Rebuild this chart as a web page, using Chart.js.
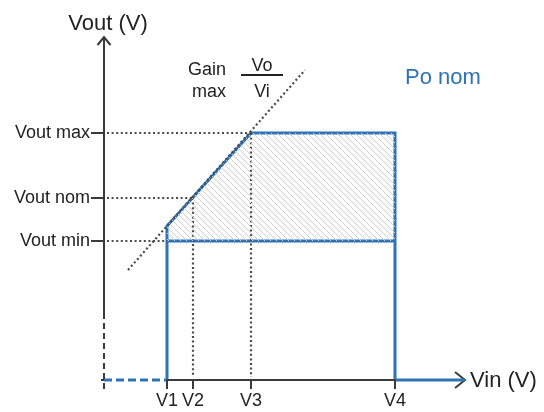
<!DOCTYPE html>
<html>
<head>
<meta charset="utf-8">
<script src="https://cdn.jsdelivr.net/npm/chart.js@4.4.0/dist/chart.umd.min.js"></script>
<style>
  body { margin: 0; background: #fff; }
  #wrap { width: 544px; height: 412px; position: relative; }
</style>
</head>
<body>
<div id="wrap"><canvas id="plage"></canvas></div>
<script>
const vinLabels = ['V1', 'V2', 'V3', 'V4'];
const vinValues = [6.3, 8.9, 14.7, 29.1];
const voutLabels = ['Vout min', 'Vout nom', 'Vout max'];
const voutValues = [13.9, 18.2, 24.7];
const voutAtV1 = 15.4;                 // coin gauche de la zone
const gainLineX = [2.4, 20.1];         // droite de gain max (pointillé)
const gainLineY = [11.0, 31.0];
const axisEnd = { x: 36.1, y: 34.3 };  // pointes des flèches

const BLUE = '#2f72b5';
const DARK = '#3a3a3a';
const DOT = '#4a4a4a';
const FONT = '"Liberation Sans", Arial, sans-serif';

const [V1, V2, V3, V4] = vinValues;
const [vMin, vNom, vMax] = voutValues;
const gap = { x: null, y: null };

// Motif hachuré de la zone
function hatch() {
    const c = document.createElement('canvas');
    c.width = 6; c.height = 6;
    const g = c.getContext('2d');
    g.strokeStyle = '#cfcfcf';
    g.lineWidth = 1;
    g.beginPath();
    g.moveTo(-1, -1); g.lineTo(7, 7);
    g.moveTo(-1, 5); g.lineTo(1, 7);
    g.moveTo(5, -1); g.lineTo(7, 1);
    g.stroke();
    return g.createPattern(c, 'repeat');
}

function seg(points, color, width, dash) {
    return {
        data: points,
        showLine: true,
        borderColor: color,
        borderWidth: width,
        borderDash: dash || [],
        pointRadius: 0,
        fill: false,
        spanGaps: false,
        clip: false,
        borderCapStyle: 'butt',
        borderJoinStyle: 'miter'
    };
}

const zone = [
    { x: V1, y: voutAtV1 }, { x: V3, y: vMax }, { x: V4, y: vMax },
    { x: V4, y: vMin }, { x: V1, y: vMin }, { x: V1, y: voutAtV1 }
];

const guides = [
    { x: 0.3, y: vMax }, { x: V3, y: vMax }, gap,
    { x: 0.3, y: vNom }, { x: V2, y: vNom }, gap,
    { x: 0.3, y: vMin }, { x: V1, y: vMin }, gap,
    { x: V2, y: vNom }, { x: V2, y: 0.3 }, gap,
    { x: V3, y: vMax }, { x: V3, y: 0.3 }
];

const gain = gainLineX.map((x, i) => ({ x: x, y: gainLineY[i] }));

const xTicks = [];
vinValues.forEach(v => { xTicks.push({ x: v, y: 0 }, { x: v, y: -0.9 }, gap); });
const yTicks = [];
voutValues.forEach(v => { yTicks.push({ x: -1.3, y: v }, { x: 0, y: v }, gap); });

const datasets = [
    Object.assign(seg(zone, 'rgba(0,0,0,0)', 0), { fill: 'shape', backgroundColor: hatch() }),
    seg(guides, DOT, 2.2, [2, 2.6]),
    seg(gain, DOT, 2.2, [2, 2.6]),
    // axes noirs
    seg([{ x: 0, y: 6.2 }, { x: 0, y: axisEnd.y }], DARK, 2),
    seg([{ x: 0, y: -0.9 }, { x: 0, y: 6.2 }], DARK, 2, [6, 4]),
    seg([{ x: -0.3, y: 0 }, { x: 0, y: 0 }, gap, { x: V1, y: 0 }, { x: V4, y: 0 }], DARK, 2),
    seg(xTicks, DARK, 2),
    seg(yTicks, DARK, 2),
    seg([{ x: -0.65, y: axisEnd.y - 0.8 }, { x: 0, y: axisEnd.y }, { x: 0.65, y: axisEnd.y - 0.8 }], DARK, 2),
    // contour bleu
    seg([{ x: 0, y: 0 }, { x: V1, y: 0 }], BLUE, 3, [8, 4]),
    seg([{ x: V1, y: 0 }, { x: V1, y: voutAtV1 }, { x: V3, y: vMax }, { x: V4, y: vMax }, { x: V4, y: 0 }], BLUE, 3),
    seg([{ x: V1, y: vMin }, { x: V4, y: vMin }], BLUE, 3),
    seg([{ x: V4, y: 0 }, { x: axisEnd.x, y: 0 }], BLUE, 3),
    seg([{ x: axisEnd.x - 1, y: 0.8 }, { x: axisEnd.x, y: 0 }, { x: axisEnd.x - 1, y: -0.8 }], DARK, 2)
];

// Textes du schéma
const labelsPlugin = {
    id: 'labels',
    afterDatasetsDraw(chart) {
        const ctx = chart.ctx;
        const xs = chart.scales.x, ys = chart.scales.y;
        ctx.save();
        ctx.fillStyle = '#222';

        ctx.font = '18px ' + FONT;
        ctx.textAlign = 'right';
        ctx.textBaseline = 'middle';
        voutLabels.forEach((t, i) => {
            ctx.fillText(t, xs.getPixelForValue(-1.4), ys.getPixelForValue(voutValues[i]));
        });
        ctx.textAlign = 'center';
        ctx.textBaseline = 'top';
        vinLabels.forEach((t, i) => {
            ctx.fillText(t, xs.getPixelForValue(vinValues[i]), ys.getPixelForValue(-1.2));
        });

        ctx.font = '22px ' + FONT;
        ctx.textAlign = 'center';
        ctx.textBaseline = 'alphabetic';
        ctx.fillText('Vout (V)', 108, 30);
        ctx.textAlign = 'left';
        ctx.textBaseline = 'middle';
        ctx.fillText('Vin (V)', 470, ys.getPixelForValue(0) + 1);

        ctx.font = '18px ' + FONT;
        ctx.textAlign = 'left';
        ctx.textBaseline = 'alphabetic';
        ctx.fillText('Gain', 188, 75);
        ctx.fillText('max', 192, 97);
        ctx.textAlign = 'center';
        ctx.fillText('Vo', 262, 71);
        ctx.fillText('Vi', 262, 97);
        ctx.fillRect(241, 74, 42, 2);

        ctx.font = '22px ' + FONT;
        ctx.textAlign = 'left';
        ctx.fillStyle = BLUE;
        ctx.fillText('Po nom', 405, 84);
        ctx.restore();
    }
};

new Chart(document.getElementById('plage'), {
    type: 'scatter',
    data: { datasets: datasets },
    options: {
        responsive: true,
        maintainAspectRatio: false,
        animation: false,
        layout: { padding: { left: 104, right: 544 - 465, top: 37, bottom: 32 } },
        scales: {
            x: { type: 'linear', display: false, min: 0, max: axisEnd.x },
            y: { type: 'linear', display: false, min: 0, max: axisEnd.y }
        },
        plugins: { legend: { display: false }, tooltip: { enabled: false } },
        elements: { line: { tension: 0 } }
    },
    plugins: [labelsPlugin]
});
</script>
</body>
</html>
